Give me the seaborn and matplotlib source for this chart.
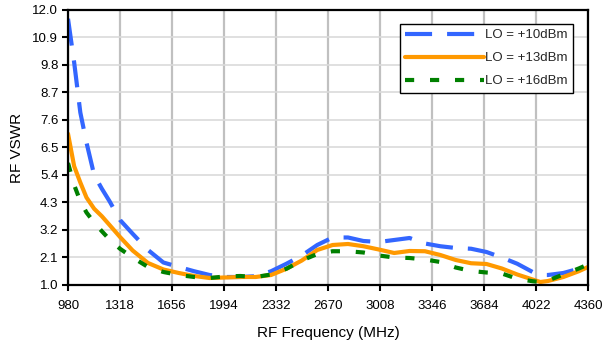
import matplotlib
matplotlib.use("Agg")
import matplotlib.pyplot as plt
import seaborn as sns
import pandas as pd

# RF port VSWR versus RF frequency for three LO drive levels
freq_mhz = [980, 1020, 1060, 1100, 1150, 1200, 1250, 1318, 1400, 1500,
            1600, 1700, 1800, 1900, 2000, 2100, 2200, 2300, 2400, 2500,
            2600, 2700, 2800, 2900, 3000, 3100, 3200, 3300, 3400, 3500,
            3600, 3700, 3800, 3900, 4000, 4050, 4100, 4200, 4300, 4360]

vswr_lo10 = [11.65, 9.9, 7.9, 6.7, 5.4, 4.85, 4.35, 3.6, 3.05, 2.4,
             1.9, 1.72, 1.55, 1.4, 1.32, 1.32, 1.35, 1.55, 1.85, 2.18,
             2.6, 2.9, 2.9, 2.76, 2.72, 2.8, 2.88, 2.66, 2.55, 2.48,
             2.45, 2.32, 2.1, 1.85, 1.52, 1.4, 1.4, 1.48, 1.65, 1.8]

vswr_lo13 = [7.05, 5.75, 5.1, 4.5, 4.05, 3.75, 3.4, 2.92, 2.38, 1.88,
             1.62, 1.48, 1.36, 1.28, 1.3, 1.32, 1.32, 1.4, 1.65, 1.98,
             2.4, 2.6, 2.64, 2.55, 2.42, 2.28, 2.36, 2.35, 2.2, 2.0,
             1.87, 1.84, 1.66, 1.42, 1.22, 1.12, 1.16, 1.32, 1.55, 1.72]

vswr_lo16 = [5.88, 5.0, 4.35, 3.9, 3.5, 3.15, 2.82, 2.45, 2.1, 1.72,
             1.52, 1.4, 1.32, 1.28, 1.34, 1.36, 1.32, 1.42, 1.65, 1.98,
             2.24, 2.35, 2.35, 2.3, 2.18, 2.1, 2.08, 2.02, 1.92, 1.7,
             1.56, 1.5, 1.46, 1.25, 1.15, 1.12, 1.18, 1.42, 1.66, 1.82]

series_names = ["LO = +10dBm", "LO = +13dBm", "LO = +16dBm"]
x_ticks = [980, 1318, 1656, 1994, 2332, 2670, 3008, 3346, 3684, 4022, 4360]
y_ticks = [1.0, 2.1, 3.2, 4.3, 5.4, 6.5, 7.6, 8.7, 9.8, 10.9, 12.0]

df = pd.concat([
    pd.DataFrame({"freq": freq_mhz, "vswr": v, "LO": name})
    for name, v in zip(series_names, [vswr_lo10, vswr_lo13, vswr_lo16])
], ignore_index=True)

sns.set_theme(style="white")
plt.rcParams["font.family"] = ["Liberation Sans", "DejaVu Sans"]

fig = plt.figure(figsize=(6.04, 3.47), dpi=100)
ax = fig.add_axes([0.1126, 0.1787, 0.8609, 0.7925])

palette = {series_names[0]: "#3366FF",
           series_names[1]: "#FF9900",
           series_names[2]: "#008000"}
dash_styles = {series_names[0]: (6.5, 3.6),
               series_names[1]: "",
               series_names[2]: (2.2, 3.8)}

sns.lineplot(data=df, x="freq", y="vswr", hue="LO", style="LO",
             palette=palette, dashes=dash_styles, linewidth=3.0,
             ax=ax, legend=True, sort=True)

ax.set_xlim(980, 4360)
ax.set_ylim(1.0, 12.0)
ax.set_xticks(x_ticks)
ax.set_xticklabels([str(t) for t in x_ticks])
ax.set_yticks(y_ticks)
ax.set_yticklabels([f"{t:.1f}" for t in y_ticks])

ax.xaxis.grid(True, color="#C0C0C0", linewidth=1.6)
ax.yaxis.grid(True, color="#DADADA", linewidth=1.2)
ax.set_axisbelow(True)

for sp in ax.spines.values():
    sp.set_color("black")
    sp.set_linewidth(1.6)

ax.tick_params(axis="both", direction="out", length=4, width=1.5,
               color="black", labelsize=9.5, labelcolor="black")
ax.tick_params(axis="x", pad=7)
ax.tick_params(axis="y", pad=3)
ax.tick_params(left=True, bottom=True)

ax.set_xlabel("RF Frequency (MHz)", fontsize=11, labelpad=10, color="black")
ax.set_ylabel("RF VSWR", fontsize=11, labelpad=6, color="black")

handles, labels = ax.get_legend_handles_labels()
leg = ax.legend(handles, labels, loc="upper right",
                bbox_to_anchor=(0.9715, 0.95), fontsize=9.5,
                handlelength=6.0, handletextpad=0.1, labelspacing=0.82,
                borderpad=0.4, borderaxespad=0.0, frameon=True,
                fancybox=False, edgecolor="black", framealpha=1.0)
leg.get_frame().set_linewidth(1.0)

fig.savefig("out.png", dpi=100)
